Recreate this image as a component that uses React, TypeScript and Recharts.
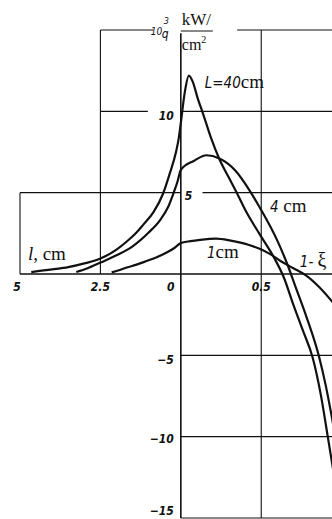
import React from 'react';
import { LineChart, Line, XAxis, YAxis, ReferenceLine, ReferenceDot } from 'recharts';

// left half: distance l, cm (plotted mirrored, u = -l / 5)
const l40 = [4.65, 4.0, 3.5, 3.0, 2.5, 2.0, 1.68, 1.4, 1.16, 0.85, 0.55, 0.34, 0.15, 0.06];
const q40Left = [0.12, 0.28, 0.42, 0.65, 0.95, 1.5, 2.0, 2.5, 3.05, 3.8, 4.95, 6.2, 7.5, 8.4];
const l4 = [3.25, 2.9, 2.5, 2.0, 1.5, 1.0, 0.65, 0.4, 0.24, 0.1];
const q4Left = [0.12, 0.35, 0.7, 1.15, 1.7, 2.55, 3.3, 4.1, 4.9, 5.7];
const l1 = [2.15, 1.9, 1.68, 1.4, 1.06, 0.75, 0.44, 0.2];
const q1Left = [0.1, 0.25, 0.4, 0.56, 0.8, 1.03, 1.32, 1.6];

// right half: 1 - ξ
const xi40 = [0, 0.025, 0.05, 0.075, 0.105, 0.14, 0.19, 0.24, 0.3, 0.35, 0.4, 0.49, 0.58, 0.64, 0.7, 0.76, 0.82, 0.87, 0.917, 0.95];
const q40Right = [9.3, 11.2, 12.2, 11.8, 10.8, 9.8, 8.3, 7.05, 5.9, 4.95, 3.95, 2.45, 1.0, -0.2, -1.9, -3.5, -5.15, -7.4, -10.2, -12.2];
const xi4 = [0, 0.08, 0.16, 0.24, 0.34, 0.43, 0.49, 0.6, 0.67, 0.71, 0.78, 0.86, 0.9, 0.95];
const q4Right = [6.4, 6.95, 7.3, 7.1, 6.35, 5.1, 4.1, 2.05, 0.4, -0.7, -2.6, -5.1, -6.8, -9.4];
const xi1 = [0, 0.06, 0.12, 0.22, 0.31, 0.42, 0.49, 0.55, 0.62, 0.7, 0.78, 0.86, 0.95];
const q1Right = [1.9, 2.02, 2.1, 2.17, 2.05, 1.8, 1.55, 1.25, 0.8, 0.35, -0.1, -0.8, -1.8];

// tick labels
const lTicks = [5, 2.5, 0];
const xiTicks = [0.5];
const qTicks = [10, 5, -5, -10, -15];

const branch = (ls: number[], ql: number[], xs: number[], qr: number[]) => [
  ...ls.map((l, i) => ({ u: -l / 5, q: ql[i] })),
  ...xs.map((x, i) => ({ u: x, q: qr[i] })),
];

const curve40 = branch(l40, q40Left, xi40, q40Right);
const curve4 = branch(l4, q4Left, xi4, q4Right);
const curve1 = branch(l1, q1Left, xi1, q1Right);

const U_MAX = 0.94;

// grid pieces [u1, q1, u2, q2]
const grid: [number, number, number, number][] = [
  [-0.5, 15, -0.17, 15],
  [0.35, 15, U_MAX, 15],
  [-0.5, 10, -0.205, 10],
  [0, 10, U_MAX, 10],
  [-1, 5, 0, 5],
  [0.135, 5, U_MAX, 5],
  [0, -5, U_MAX, -5],
  [0, -10, U_MAX, -10],
  [0, -15, U_MAX, -15],
  [-1, 0, -1, 5],
  [-0.5, 0, -0.5, 15],
  [0.5, -15, 0.5, 15],
];

const NUM_FONT = "'DejaVu Sans Condensed', 'Liberation Sans Narrow', 'DejaVu Sans', sans-serif";
const SERIF = "'Liberation Serif', 'DejaVu Serif', serif";

const Txt = (props: any) => {
  const { viewBox, dx = 0, dy = 0, anchor = 'middle', size = 12, children } = props;
  if (!viewBox) return null;
  return (
    <text
      x={viewBox.x + dx}
      y={viewBox.y + dy}
      textAnchor={anchor}
      fontFamily={NUM_FONT}
      fontStyle="italic"
      fontWeight={600}
      fontSize={size}
      fill="#111"
    >
      {children}
    </text>
  );
};

const Title = (props: any) => {
  const { viewBox } = props;
  if (!viewBox) return null;
  const x = viewBox.x;
  const y = viewBox.y;
  return (
    <g fill="#111">
      <text x={x - 30} y={y + 5} fontFamily={NUM_FONT} fontStyle="italic" fontSize={10}>10</text>
      <text x={x - 17} y={y - 6} fontFamily={NUM_FONT} fontStyle="italic" fontSize={9}>3</text>
      <text x={x - 19} y={y + 8} fontFamily={NUM_FONT} fontStyle="italic" fontSize={12}>q</text>
      <text x={x + 1} y={y - 5} fontFamily={SERIF} fontSize={17}>kW/</text>
      <line x1={x} x2={x + 32} y1={y + 1} y2={y + 1} stroke="#111" strokeWidth={1} />
      <text x={x + 1} y={y + 20} fontFamily={SERIF} fontSize={16}>
        cm<tspan fontSize={10} dy={-7}>2</tspan>
      </text>
    </g>
  );
};

const Note = (props: any) => {
  const { viewBox, num, unit, numFont = NUM_FONT, numSize = 15, unitSize = 19 } = props;
  if (!viewBox) return null;
  return (
    <text x={viewBox.x} y={viewBox.y} fill="#111">
      <tspan fontFamily={numFont} fontStyle="italic" fontSize={numSize}>{num}</tspan>
      <tspan fontFamily={SERIF} fontSize={unitSize}>{unit}</tspan>
    </text>
  );
};

const fmt = (v: number) => (v < 0 ? `\u2212${-v}` : `${v}`);

export default function App() {
  return (
    <div style={{ position: 'absolute', left: 0, top: 0, width: 332, height: 519, background: '#fff' }}>
      <LineChart width={332} height={519} margin={{ top: 30, right: 0, bottom: 1, left: 20 }}>
        <XAxis type="number" dataKey="u" domain={[-1, U_MAX]} hide allowDataOverflow />
        <YAxis type="number" dataKey="q" domain={[-15, 15]} hide allowDataOverflow />

        {grid.map(([u1, q1, u2, q2], i) => (
          <ReferenceLine
            key={`g-${i}`}
            segment={[{ x: u1, y: q1 }, { x: u2, y: q2 }]}
            stroke="#111"
            strokeWidth={1.1}
            ifOverflow="visible"
          />
        ))}
        <ReferenceLine segment={[{ x: -1, y: 0 }, { x: U_MAX, y: 0 }]} stroke="#111" strokeWidth={1.6} ifOverflow="visible" />
        <ReferenceLine segment={[{ x: 0, y: -15 }, { x: 0, y: 14.8 }]} stroke="#111" strokeWidth={1.6} ifOverflow="visible" />

        <Line data={curve40} dataKey="q" type="monotone" stroke="#111" strokeWidth={2.2} dot={false} isAnimationActive={false} />
        <Line data={curve4} dataKey="q" type="monotone" stroke="#111" strokeWidth={2.2} dot={false} isAnimationActive={false} />
        <Line data={curve1} dataKey="q" type="monotone" stroke="#111" strokeWidth={2.2} dot={false} isAnimationActive={false} />

        {lTicks.map((l) => (
          <ReferenceDot key={`l-${l}`} x={-l / 5} y={0} r={0} fill="none" stroke="none" ifOverflow="visible"
            label={<Txt dx={l === 5 ? -3 : l === 0 ? -10 : 0} dy={17}>{`${l}`}</Txt>} />
        ))}
        {xiTicks.map((x) => (
          <ReferenceDot key={`x-${x}`} x={x} y={0} r={0} fill="none" stroke="none" ifOverflow="visible"
            label={<Txt dy={17}>{`${x}`}</Txt>} />
        ))}
        {qTicks.map((q) => (
          <ReferenceDot key={`q-${q}`} x={0} y={q} r={0} fill="none" stroke="none" ifOverflow="visible"
            label={
              q === 5
                ? <Txt anchor="start" dx={4} dy={7}>{fmt(q)}</Txt>
                : <Txt anchor="end" dx={-7} dy={q === -15 ? -3 : q === -10 ? 6 : 9}>{fmt(q)}</Txt>
            } />
        ))}

        <ReferenceDot x={0} y={15} r={0} fill="none" stroke="none" ifOverflow="visible" label={<Title />} />
        <ReferenceDot x={0.149} y={11.43} r={0} fill="none" stroke="none" ifOverflow="visible"
          label={<Note num="L=40" unit="cm" />} />
        <ReferenceDot x={0.554} y={3.81} r={0} fill="none" stroke="none" ifOverflow="visible"
          label={<Note num="4" unit=" cm" />} />
        <ReferenceDot x={0.162} y={0.98} r={0} fill="none" stroke="none" ifOverflow="visible"
          label={<Note num="1" unit="cm" />} />
        <ReferenceDot x={0.74} y={0.43} r={0} fill="none" stroke="none" ifOverflow="visible"
          label={<Note num="1- " unit="ξ" unitSize={20} />} />
        <ReferenceDot x={-0.951} y={0.86} r={0} fill="none" stroke="none" ifOverflow="visible"
          label={<Note num="l" numFont={SERIF} numSize={19} unit=", cm" unitSize={19} />} />
      </LineChart>
    </div>
  );
}
